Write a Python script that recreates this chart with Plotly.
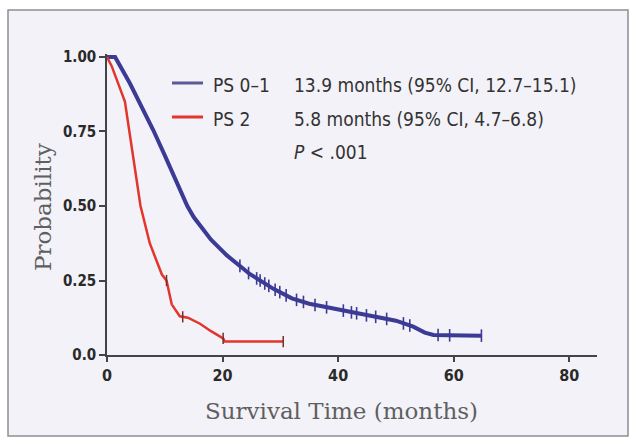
import plotly.graph_objects as go

# Kaplan-Meier overall survival by performance status
ps01_time = [0, 1.4, 4, 8, 10, 12, 13.9, 15, 16, 17, 18, 20.7, 24.7, 28.8, 32, 35, 40, 45, 50, 53, 55, 56.5,
             60, 64.8]
ps01_surv = [1.0, 1.0, 0.91, 0.755, 0.67, 0.58, 0.50, 0.463, 0.437, 0.41, 0.387, 0.335, 0.272, 0.222, 0.19,
             0.172, 0.152, 0.133, 0.115, 0.095, 0.075, 0.067, 0.066, 0.065]

ps2_time = [0, 0.8, 3.1, 4.5, 5.8, 7.4, 9.5, 10.3, 11.2, 12.6, 14, 16.1, 18, 20.1, 20.4, 30.5]
ps2_surv = [1.0, 0.97, 0.85, 0.67, 0.50, 0.375, 0.27, 0.25, 0.17, 0.13, 0.125, 0.105, 0.08, 0.056, 0.045, 0.045]

# censored observations
ps01_cens_time = [23.0, 24.5, 25.9, 26.5, 27.3, 28.0, 29.1, 29.9, 31.0, 32.8, 34.0, 36.0, 38.0, 40.9, 42.3,
                  43.2, 44.9, 46.5, 48.4, 51.3, 52.4, 57.3, 59.3, 64.8]
ps01_cens_surv = [0.299, 0.275, 0.257, 0.250, 0.240, 0.232, 0.219, 0.211, 0.200, 0.185, 0.178, 0.168, 0.160,
                  0.149, 0.143, 0.140, 0.133, 0.128, 0.121, 0.106, 0.099, 0.067, 0.066, 0.065]
ps2_cens_time = [10.3, 13.1, 20.1, 30.5]
ps2_cens_surv = [0.25, 0.128, 0.056, 0.045]

x_ticks = [0, 20, 40, 60, 80]
y_ticks = [0, 0.25, 0.5, 0.75, 1.0]
y_tick_text = ["0.0", "0.25", "0.50", "0.75", "1.00"]

legend_names = ["PS 0\u20131", "PS 2"]
legend_stats = ["13.9 months (95% CI, 12.7\u201315.1)", "5.8 months (95% CI, 4.7\u20136.8)"]
p_text = "<i>P</i> < .001"
x_title = "Survival Time (months)"
y_title = "Probability"

BLUE = "#3b3a95"
RED = "#e2352c"
COND = "DejaVu Sans Condensed"
TITLE_FONT = dict(family="DejaVu Serif", size=23, color="#5f5f5f")

fig = go.Figure()
fig.add_trace(go.Scatter(x=ps01_time, y=ps01_surv, mode="lines",
                         line=dict(color=BLUE, width=4), showlegend=False))
fig.add_trace(go.Scatter(x=ps2_time, y=ps2_surv, mode="lines",
                         line=dict(color=RED, width=2.5), showlegend=False))
fig.add_trace(go.Scatter(x=ps01_cens_time, y=ps01_cens_surv, mode="markers",
                         marker=dict(symbol="line-ns", size=9, line=dict(color=BLUE, width=1.6)),
                         showlegend=False))
fig.add_trace(go.Scatter(x=ps2_cens_time, y=ps2_cens_surv, mode="markers",
                         marker=dict(symbol="line-ns", size=8, line=dict(color="#7a2a2a", width=1.5)),
                         showlegend=False))

# pixel -> paper helpers for the plot area (x 107..597, y 54..355)
L, R, T, B = 107, 597, 54, 355
def px(v):
    return (v - L) / (R - L)
def py(v):
    return (B - v) / (B - T)

shapes = [
    dict(type="rect", xref="paper", yref="paper", x0=px(8), x1=px(628), y0=py(436), y1=py(10),
         line=dict(color="#8f8f8f", width=1.5), fillcolor="#f3f2f8", layer="below"),
    dict(type="line", xref="paper", yref="paper", x0=px(172), x1=px(203), y0=py(83), y1=py(83),
         line=dict(color="#5b5a95", width=3)),
    dict(type="line", xref="paper", yref="paper", x0=px(172), x1=px(203), y0=py(117), y1=py(117),
         line=dict(color=RED, width=3)),
]

LEG_FONT = dict(family=COND, size=19, color="#333333")
annotations = []
rows_y = [85, 119]
for name, stat, yy in zip(legend_names, legend_stats, rows_y):
    annotations.append(dict(text=name, xref="paper", yref="paper", x=px(211), y=py(yy),
                            xanchor="left", yanchor="middle", showarrow=False, font=LEG_FONT))
    annotations.append(dict(text=stat, xref="paper", yref="paper", x=px(292), y=py(yy),
                            xanchor="left", yanchor="middle", showarrow=False, font=LEG_FONT))
annotations.append(dict(text=p_text, xref="paper", yref="paper", x=px(292), y=py(152),
                        xanchor="left", yanchor="middle", showarrow=False, font=LEG_FONT))
# axis titles
annotations.append(dict(text=x_title, xref="paper", yref="paper", x=px(341), y=py(411),
                        xanchor="center", yanchor="middle", showarrow=False, font=TITLE_FONT))
annotations.append(dict(text=y_title, xref="paper", yref="paper", x=px(43), y=py(207),
                        xanchor="center", yanchor="middle", showarrow=False, textangle=-90,
                        font=TITLE_FONT))

fig.update_layout(
    width=641, height=441,
    margin=dict(l=L, r=641 - R, t=T, b=441 - B),
    paper_bgcolor="white", plot_bgcolor="rgba(0,0,0,0)",
    shapes=shapes, annotations=annotations,
    xaxis=dict(range=[0, 84.8], tickvals=x_ticks, showgrid=False, zeroline=False,
               showline=True, linecolor="#444444", linewidth=1.5,
               ticks="outside", ticklen=5, tickcolor="#444444", tickwidth=1.5,
               tickfont=dict(family=COND, size=16, color="#2a2a2a", weight="bold")),
    yaxis=dict(range=[0, 1.01], tickvals=y_ticks, ticktext=y_tick_text, showgrid=False,
               zeroline=False, showline=True, linecolor="#444444", linewidth=1.5,
               ticks="outside", ticklen=6, tickcolor="#444444", tickwidth=1.5,
               tickfont=dict(family=COND, size=15, color="#2a2a2a", weight="bold")),
)

fig.write_html("out.html")
